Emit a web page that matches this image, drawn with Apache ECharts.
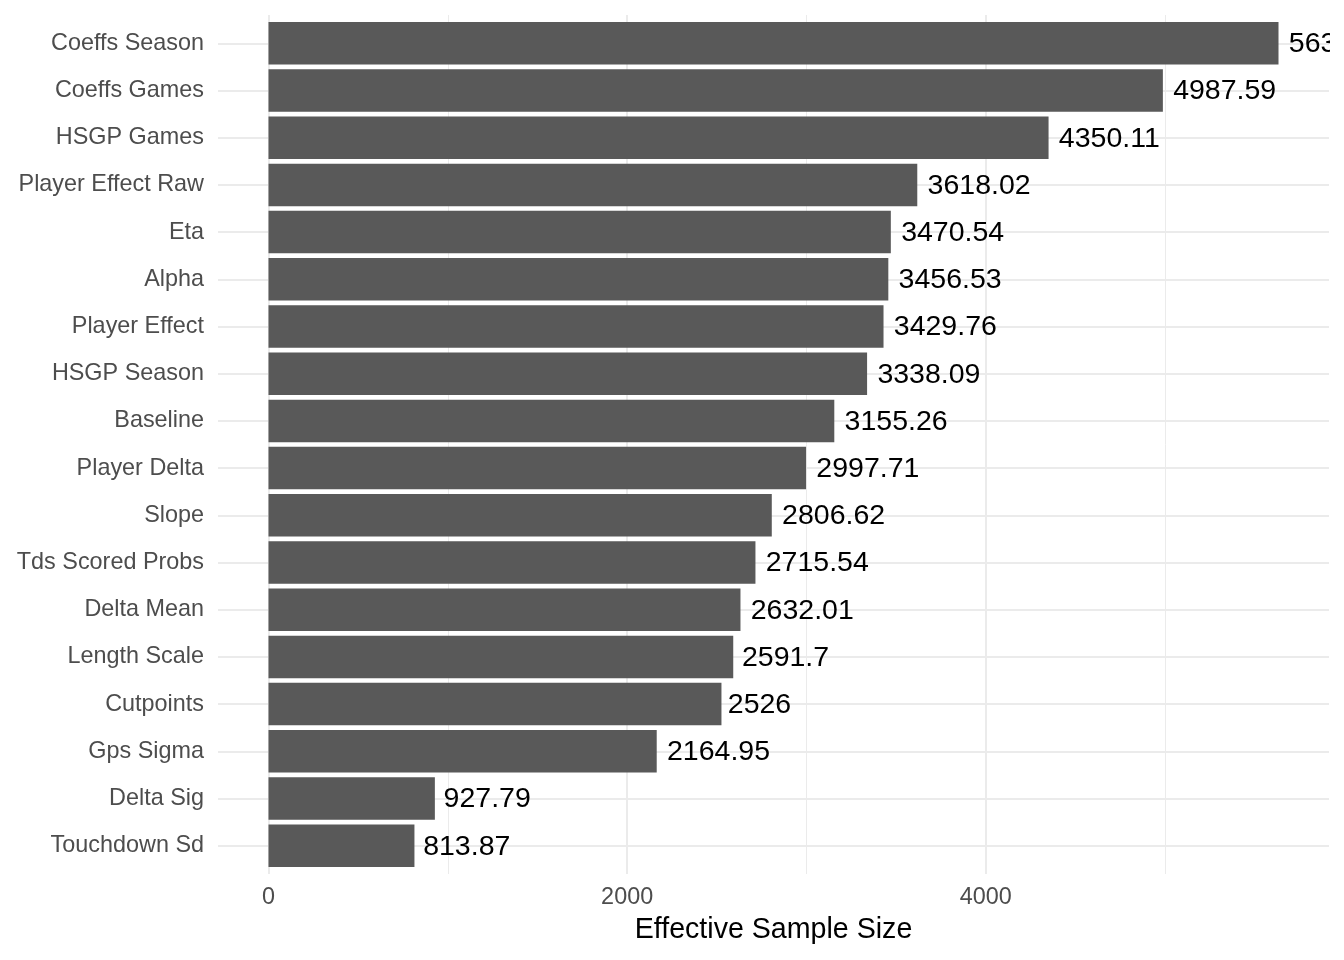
<!DOCTYPE html>
<html><head><meta charset="utf-8">
<script src="https://cdn.jsdelivr.net/npm/echarts@6/dist/echarts.min.js"></script>
<style>html,body{margin:0;padding:0;background:#fff;}#chart{width:1330px;height:960px;}</style>
</head><body><div id="chart"></div>
<script>
// ---- data ----
const categories = ['Coeffs Season','Coeffs Games','HSGP Games','Player Effect Raw','Eta','Alpha','Player Effect','HSGP Season','Baseline','Player Delta','Slope','Tds Scored Probs','Delta Mean','Length Scale','Cutpoints','Gps Sigma','Delta Sig','Touchdown Sd'];
const values = [5632.41,4987.59,4350.11,3618.02,3470.54,3456.53,3429.76,3338.09,3155.26,2997.71,2806.62,2715.54,2632.01,2591.7,2526,2164.95,927.79,813.87];
const xTickLabels = [0, 2000, 4000];
const majorGrid = [0, 2000, 4000];
const minorGrid = [1000, 3000, 5000];
const xTitle = 'Effective Sample Size';

// ---- layout / style ----
const FONT = '"Liberation Sans", Arial, Helvetica, sans-serif';
const maxV = Math.max(...values);
const xMin = -0.05 * maxV, xMax = 1.05 * maxV;
const panelLeft = 218, panelRight = 1330 - 1329;
const panelTop = 15, panelH = 859;
const band = panelH / (categories.length + 0.2);
const valueFont = 28.5;
const tickFont = 23.4;
function textWidthEm(s){ let w=0; for(const c of s){ w += (c==='.')?0.278:0.556; } return w; }

const chart = echarts.init(document.getElementById('chart'), null, {renderer:'canvas'});
chart.setOption({
  animation: false,
  backgroundColor: '#ffffff',
  textStyle: { fontFamily: FONT },
  grid: [
    { left: panelLeft, right: panelRight, top: panelTop, height: panelH, containLabel: false },
    { left: panelLeft, right: panelRight, top: panelTop + 0.1 * band, height: categories.length * band, containLabel: false }
  ],
  xAxis: [
    { type: 'value', gridIndex: 0, min: xMin, max: xMax,
      axisLine: {show:false}, axisTick: {show:false}, splitLine: {show:false},
      axisLabel: { customValues: xTickLabels, formatter: v => String(v), fontSize: tickFont, color: '#4d4d4d', margin: 12, fontFamily: FONT },
      name: xTitle, nameLocation: 'middle', nameGap: 42,
      nameTextStyle: { fontSize: 28.6, color: '#000000', fontFamily: FONT } },
    { type: 'value', gridIndex: 1, min: xMin, max: xMax, show: false }
  ],
  yAxis: [
    { type: 'value', gridIndex: 0, min: 0, max: 1, show: false },
    { type: 'category', gridIndex: 1, data: categories, inverse: true,
      axisLine: {show:false}, axisTick: {show:false}, splitLine: {show:false},
      axisLabel: { fontSize: tickFont, color: '#4d4d4d', margin: 14, padding: [2,0,0,0], fontFamily: FONT } }
  ],
  series: [
    { type: 'line', xAxisIndex: 0, yAxisIndex: 0, data: [], silent: true, z: 0,
      markLine: { silent: true, symbol: ['none','none'], z: 0, animation: false,
        label: {show:false},
        data: majorGrid.map(v => ({ xAxis: v, lineStyle: { color: '#ebebeb', width: 2, type: 'solid' } }))
          .concat(minorGrid.map(v => ({ xAxis: v, lineStyle: { color: '#ebebeb', width: 1, type: 'solid' } }))) } },
    { type: 'line', xAxisIndex: 1, yAxisIndex: 1, data: [], silent: true, z: 0,
      markLine: { silent: true, symbol: ['none','none'], z: 0, animation: false,
        label: {show:false},
        data: categories.map(c => ({ yAxis: c, lineStyle: { color: '#ebebeb', width: 2, type: 'solid' } })) } },
    { type: 'bar', xAxisIndex: 1, yAxisIndex: 1, barWidth: '90%', z: 2,
      itemStyle: { color: '#595959' },
      label: { show: true, position: 'right', fontSize: valueFont, color: '#000000', fontFamily: FONT,
        offset: [0, 1], formatter: p => String(p.value) },
      data: values.map(v => ({ value: v, label: { distance: 0.1 * textWidthEm(String(v)) * valueFont } })) }
  ]
});
</script></body></html>
